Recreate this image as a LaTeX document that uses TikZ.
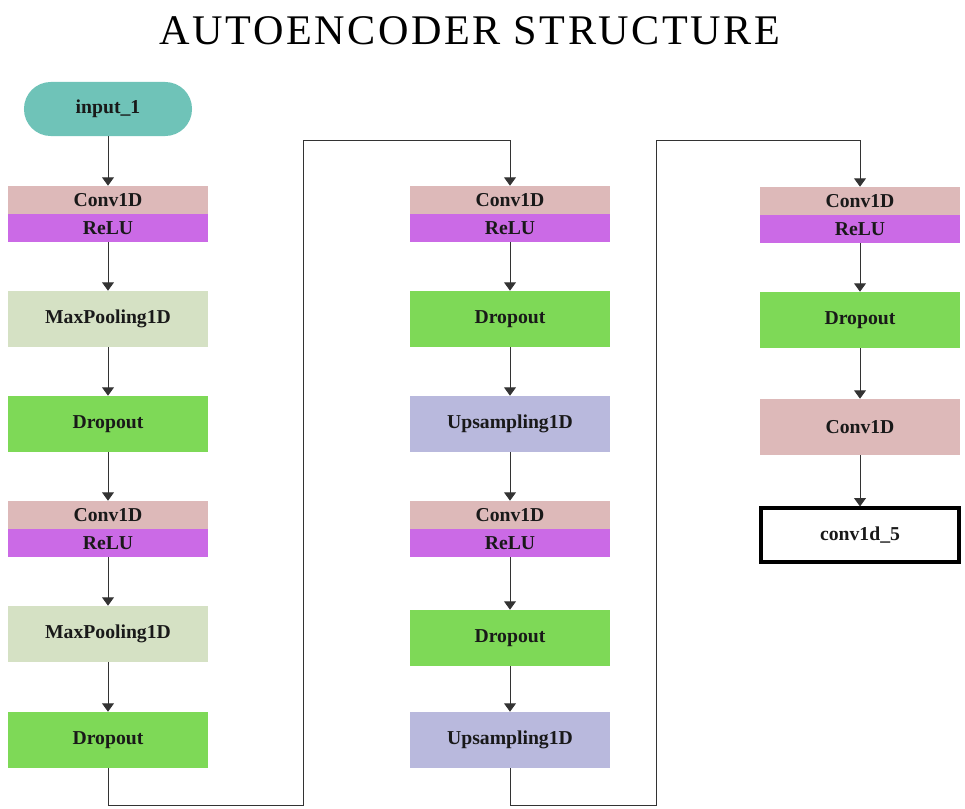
\documentclass[tikz,border=0pt]{standalone}
\usepackage{fontspec}
\setmainfont{Liberation Serif}
\newfontfamily\titlefont[LetterSpace=6]{Liberation Serif}
\usetikzlibrary{arrows.meta}

\definecolor{inputteal}{HTML}{6FC3B8}
\definecolor{convpink}{HTML}{DDB9B9}
\definecolor{relumag}{HTML}{CB6AE6}
\definecolor{poolgreen}{HTML}{D5E1C4}
\definecolor{dropgreen}{HTML}{7ED957}
\definecolor{uplav}{HTML}{B9B9DD}

\tikzset{
    layer/.style={minimum width=5cm, minimum height=1.4cm, inner sep=0pt,
        font=\fontsize{14}{16}\selectfont\bfseries, text=black!90},
    half/.style={layer, minimum height=0.7cm},
    conv/.style={half, fill=convpink},
    relu/.style={half, fill=relumag},
    pool/.style={layer, fill=poolgreen},
    drop/.style={layer, fill=dropgreen},
    upsamp/.style={layer, fill=uplav},
    link/.style={-{Triangle[width=8.5pt,length=6pt]}, black!80, line width=0.7pt}
}

\begin{document}
\begin{tikzpicture}[x=0.025cm, y=-0.025cm]
    \useasboundingbox (0,0) rectangle (965,808);
    % Title
    \node (title) at (470,31) {\titlefont\fontsize{30}{32}\selectfont AUTOENCODER STRUCTURE};
    % Encoder column
    \node[layer, minimum width=4.2cm, minimum height=1.35cm, rounded corners=0.67cm, fill=inputteal] (in1) at (108,109) {input\_1};
    \node[conv] (c1) at (108,200) {Conv1D};
    \node[relu] (r1) at (108,228) {ReLU};
    \node[pool] (mp1) at (108,319) {MaxPooling1D};
    \node[drop] (do1) at (108,424) {Dropout};
    \node[conv] (c2) at (108,515) {Conv1D};
    \node[relu] (r2) at (108,543) {ReLU};
    \node[pool] (mp2) at (108,634) {MaxPooling1D};
    \node[drop] (do2) at (108,740) {Dropout};
    % Middle column
    \node[conv] (c3) at (510,200) {Conv1D};
    \node[relu] (r3) at (510,228) {ReLU};
    \node[drop] (do3) at (510,319) {Dropout};
    \node[upsamp] (up1) at (510,424) {Upsampling1D};
    \node[conv] (c4) at (510,515) {Conv1D};
    \node[relu] (r4) at (510,543) {ReLU};
    \node[drop] (do4) at (510,638) {Dropout};
    \node[upsamp] (up2) at (510,740) {Upsampling1D};
    % Decoder output column
    \node[conv] (c5) at (860,201) {Conv1D};
    \node[relu] (r5) at (860,229) {ReLU};
    \node[drop] (do5) at (860,320) {Dropout};
    \node[layer, fill=convpink] (c6) at (860,427) {Conv1D};
    \node[layer, minimum width=4.95cm, minimum height=1.35cm, draw=black, line width=2.2pt] (out) at (860,535) {conv1d\_5};
    % Connectors
    \draw[link] (in1) -- (c1);
    \draw[link] (r1) -- (mp1);
    \draw[link] (mp1) -- (do1);
    \draw[link] (do1) -- (c2);
    \draw[link] (r2) -- (mp2);
    \draw[link] (mp2) -- (do2);
    \draw[link] (r3) -- (do3);
    \draw[link] (do3) -- (up1);
    \draw[link] (up1) -- (c4);
    \draw[link] (r4) -- (do4);
    \draw[link] (do4) -- (up2);
    \draw[link] (r5) -- (do5);
    \draw[link] (do5) -- (c6);
    \draw[link] (c6) -- (out);
    % Column jumps
    \coordinate (j1) at (303,805);
    \coordinate (j2) at (303,140);
    \coordinate (j3) at (656,805);
    \coordinate (j4) at (656,140);
    \draw[link] (do2.south) |- (j1) -- (j2) -| (c3.north);
    \draw[link] (up2.south) |- (j3) -- (j4) -| (c5.north);
\end{tikzpicture}
\end{document}
